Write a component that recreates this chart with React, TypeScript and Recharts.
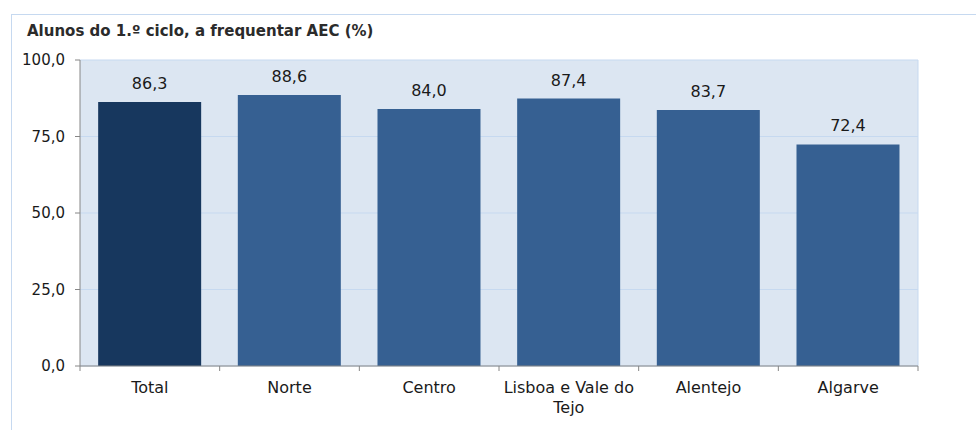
import React from "react";
import { BarChart, Bar, XAxis, YAxis, CartesianGrid, LabelList, Cell } from "recharts";

const regions = ["Total", "Norte", "Centro", "Lisboa e Vale do Tejo", "Alentejo", "Algarve"];
const aecShare = [86.3, 88.6, 84.0, 87.4, 83.7, 72.4];
const yTicks = [0, 25, 50, 75, 100];

const data = regions.map((name, i) => ({ name, value: aecShare[i] }));

const W = 976;
const H = 430;
const M = { top: 60, right: 58, bottom: 0, left: 0 };
const Y_AXIS_W = 80;
const X_AXIS_H = 64;
const plotW = W - M.left - M.right - Y_AXIS_W;
const band = plotW / regions.length;

const FONT = "'DejaVu Sans', Verdana, sans-serif";
const fmt = (v: number) => v.toFixed(1).replace(".", ",");

const wrap = (s: string) => (s === "Lisboa e Vale do Tejo" ? ["Lisboa e Vale do", "Tejo"] : [s]);

const XTick = (props: any) => {
  const { x, y, payload, index } = props;
  const left = x - band / 2;
  const lines = wrap(payload.value);
  return (
    <g>
      <line x1={left} y1={y - 8} x2={left} y2={y - 3} stroke="#868686" />
      {index === regions.length - 1 && (
        <line x1={left + band} y1={y - 8} x2={left + band} y2={y - 3} stroke="#868686" />
      )}
      <text x={x} y={y + 19} textAnchor="middle" fontSize={16} fontFamily={FONT} fill="#1a1a1a">
        {lines.map((l, i) => (
          <tspan key={i} x={x} dy={i === 0 ? 0 : 20}>
            {l}
          </tspan>
        ))}
      </text>
    </g>
  );
};

export default function App() {
  return (
    <div style={{ position: "absolute", left: 0, top: 0, width: W, height: H, background: "#fff" }}>
      <div
        style={{
          position: "absolute",
          left: 11,
          top: 14,
          right: 0,
          bottom: 0,
          borderTop: "1px solid #c6d9f0",
          borderLeft: "1px solid #c6d9f0",
        }}
      />
      <div
        style={{
          position: "absolute",
          left: 27,
          top: 22,
          fontFamily: FONT,
          fontSize: 15,
          fontWeight: "bold",
          color: "#2b2b2b",
          whiteSpace: "nowrap",
        }}
      >
        Alunos do 1.º ciclo, a frequentar AEC (%)
      </div>
      <div style={{ position: "absolute", left: 0, top: 0 }}>
        <BarChart width={W} height={H} data={data} margin={M} barCategoryGap="13%">
          <CartesianGrid
            fill="#dce6f2"
            stroke="#c6d9f0"
            verticalCoordinatesGenerator={({ offset }: any) => [offset.left + offset.width]}
          />
          <XAxis
            dataKey="name"
            interval={0}
            height={X_AXIS_H}
            stroke="#868686"
            tickLine={false}
            tick={<XTick />}
          />
          <YAxis
            domain={[0, 100]}
            ticks={yTicks}
            width={Y_AXIS_W}
            stroke="#868686"
            tickSize={5}
            tickMargin={10}
            tickFormatter={fmt}
            tick={{ fontSize: 15, fontFamily: FONT, fill: "#1a1a1a" }}
          />
          <Bar dataKey="value" isAnimationActive={false}>
            {data.map((d, i) => (
              <Cell key={d.name} fill={i === 0 ? "#17375e" : "#366092"} />
            ))}
            <LabelList
              dataKey="value"
              position="top"
              offset={13}
              formatter={(v: any) => fmt(Number(v))}
              style={{ fontSize: 16, fontFamily: FONT, fill: "#1a1a1a" }}
            />
          </Bar>
        </BarChart>
      </div>
    </div>
  );
}
